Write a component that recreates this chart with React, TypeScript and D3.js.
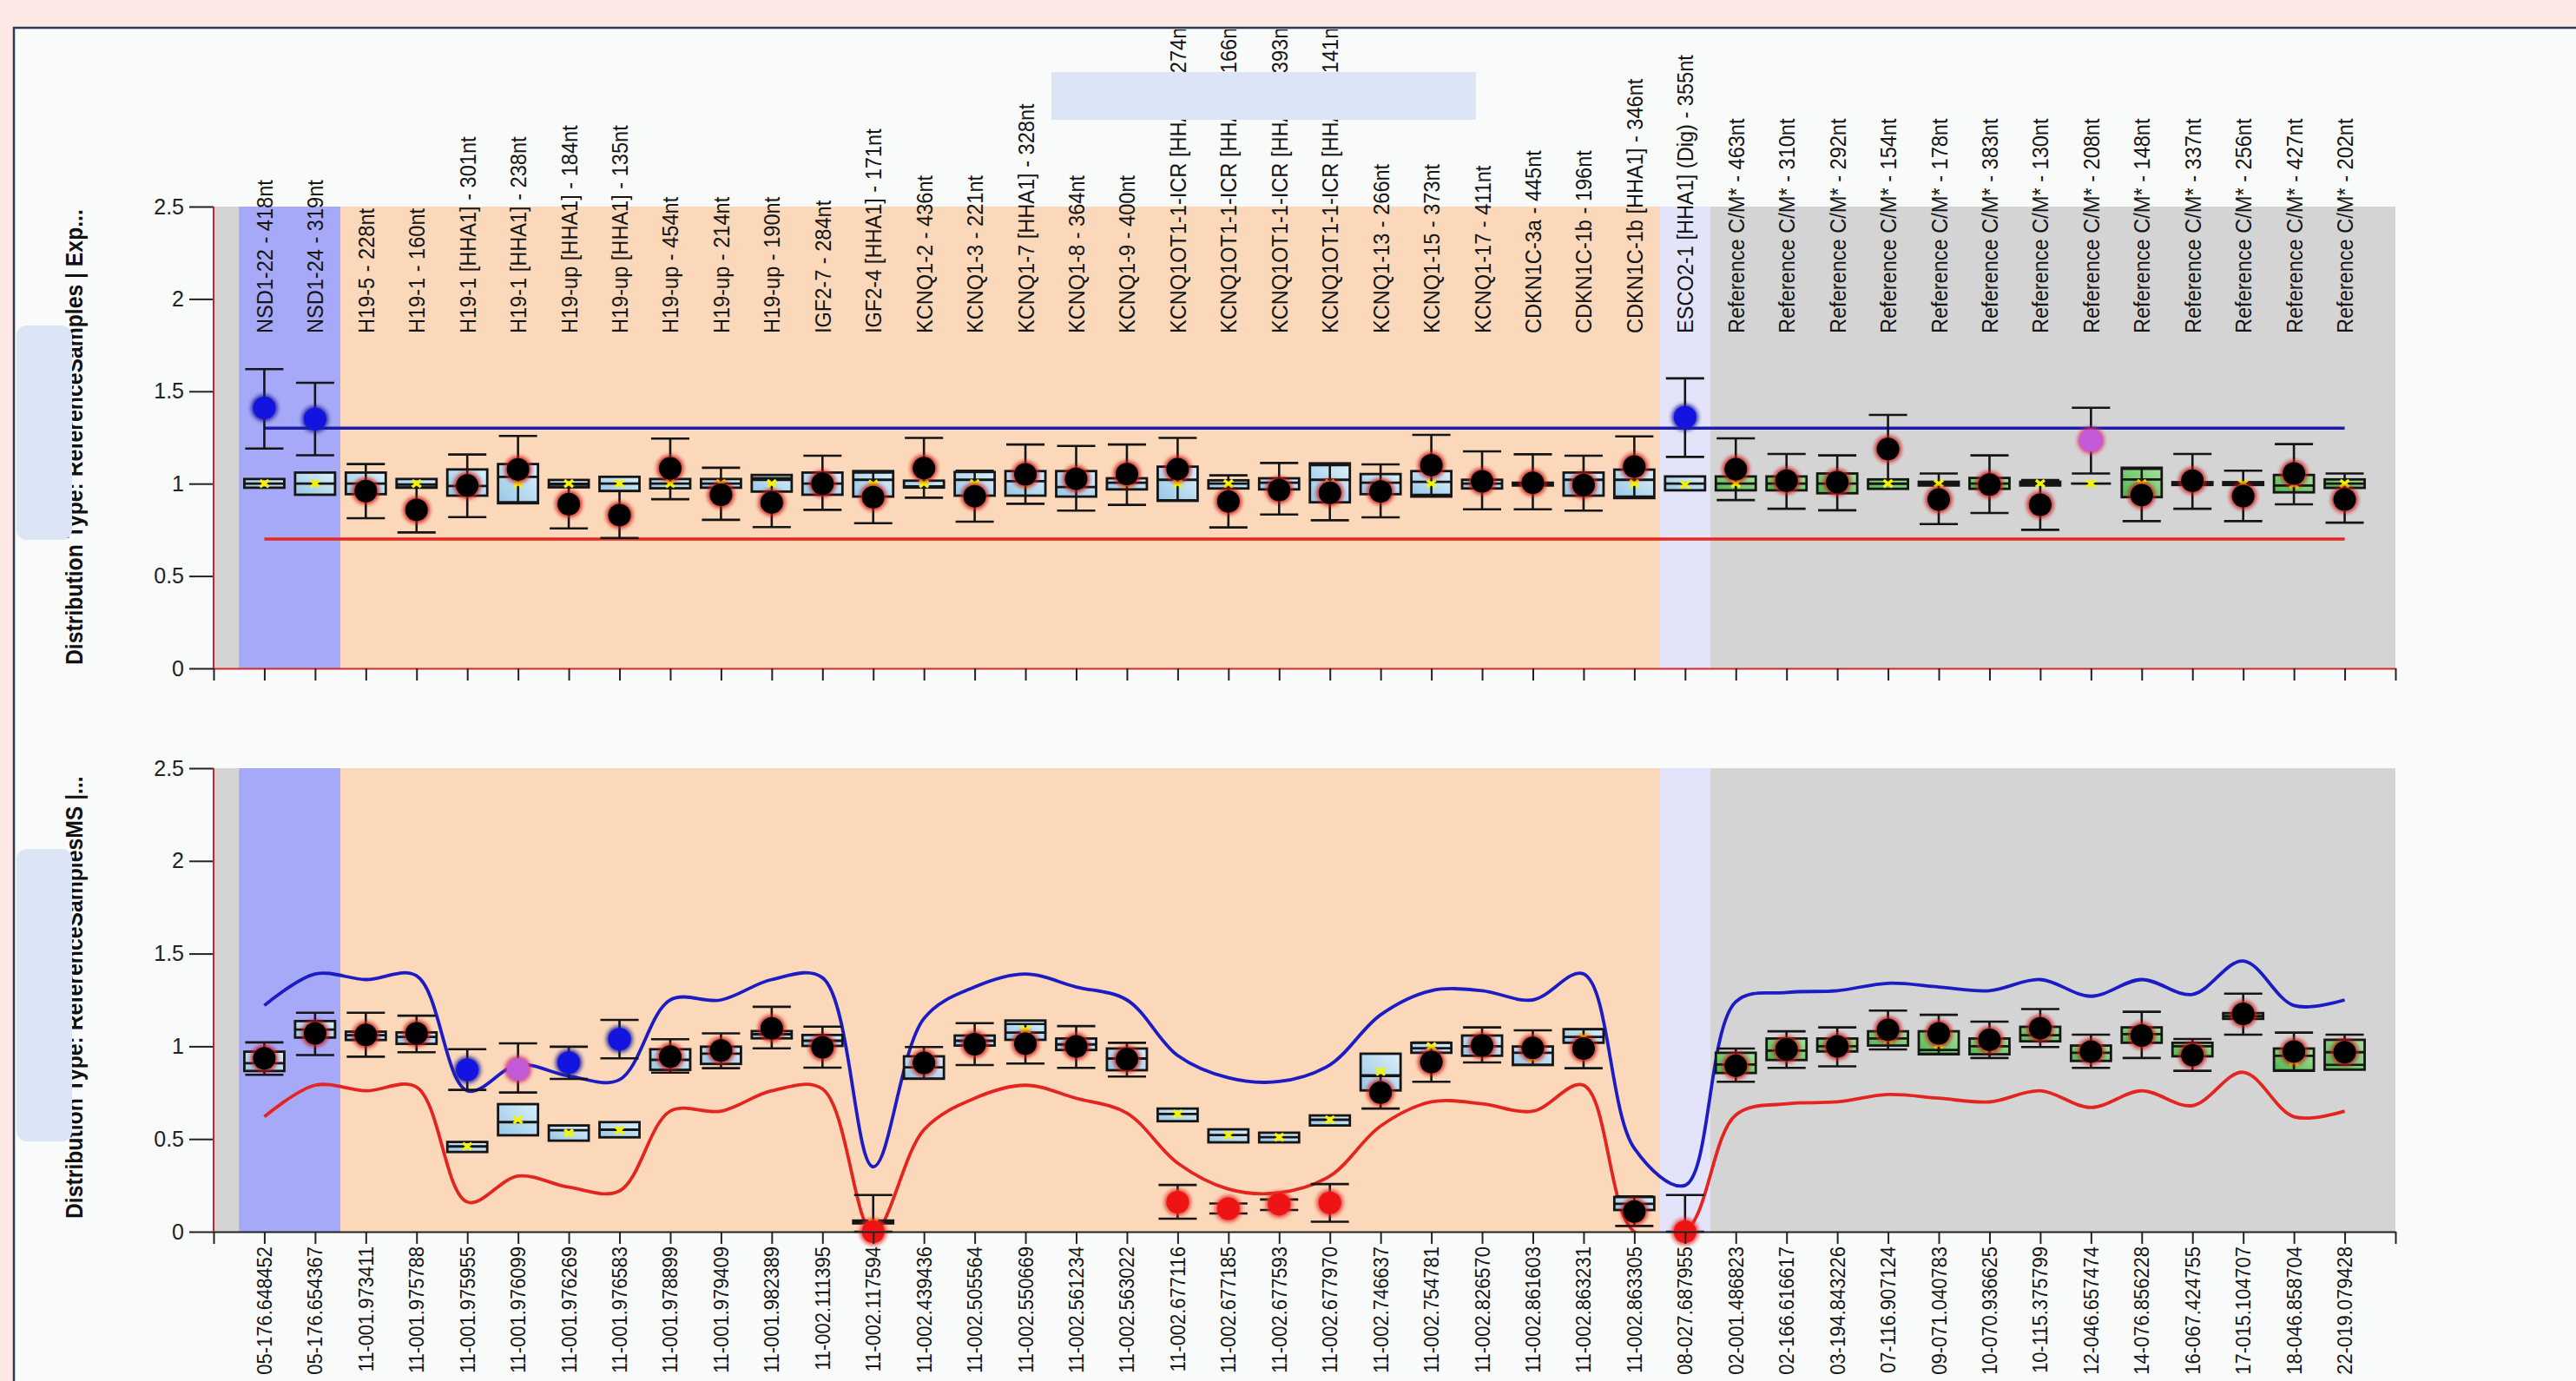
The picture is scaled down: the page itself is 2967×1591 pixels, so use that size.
import React, { useEffect, useRef } from "react";
import * as d3 from "d3";

const W = 2967;
const H = 1591;

// probe names written at the top of the upper panel
const probeLabels = [
  "NSD1-22 - 418nt", "NSD1-24 - 319nt", "H19-5 - 228nt", "H19-1 - 160nt",
  "H19-1 [HHA1] - 301nt", "H19-1 [HHA1] - 238nt", "H19-up [HHA1] - 184nt", "H19-up [HHA1] - 135nt",
  "H19-up - 454nt", "H19-up - 214nt", "H19-up - 190nt", "IGF2-7 - 284nt",
  "IGF2-4 [HHA1] - 171nt", "KCNQ1-2 - 436nt", "KCNQ1-3 - 221nt", "KCNQ1-7 [HHA1] - 328nt",
  "KCNQ1-8 - 364nt", "KCNQ1-9 - 400nt", "KCNQ1OT1-1-ICR [HHA1] - 274nt", "KCNQ1OT1-1-ICR [HHA1] - 166nt",
  "KCNQ1OT1-1-ICR [HHA1] - 393nt", "KCNQ1OT1-1-ICR [HHA1] - 141nt", "KCNQ1-13 - 266nt", "KCNQ1-15 - 373nt",
  "KCNQ1-17 - 411nt", "CDKN1C-3a - 445nt", "CDKN1C-1b - 196nt", "CDKN1C-1b [HHA1] - 346nt",
  "ESCO2-1 [HHA1] (Dig) - 355nt", "Reference C/M* - 463nt", "Reference C/M* - 310nt", "Reference C/M* - 292nt",
  "Reference C/M* - 154nt", "Reference C/M* - 178nt", "Reference C/M* - 383nt", "Reference C/M* - 130nt",
  "Reference C/M* - 208nt", "Reference C/M* - 148nt", "Reference C/M* - 337nt", "Reference C/M* - 256nt",
  "Reference C/M* - 427nt", "Reference C/M* - 202nt",
];

// chromosome positions under the lower panel
const positionLabels = [
  "05-176.648452", "05-176.654367", "11-001.973411", "11-001.975788", "11-001.975955", "11-001.976099",
  "11-001.976269", "11-001.976583", "11-001.978899", "11-001.979409", "11-001.982389", "11-002.111395",
  "11-002.117594", "11-002.439436", "11-002.505564", "11-002.550669", "11-002.561234", "11-002.563022",
  "11-002.677116", "11-002.677185", "11-002.677593", "11-002.677970", "11-002.746637", "11-002.754781",
  "11-002.826570", "11-002.861603", "11-002.863231", "11-002.863305", "08-027.687955", "02-001.486823",
  "02-166.616617", "03-194.843226", "07-116.907124", "09-071.040783", "10-070.936625", "10-115.375799",
  "12-046.657474", "14-076.856228", "16-067.424755", "17-015.104707", "18-046.858704", "22-019.079428",
];

// number of probes in each shaded region, left to right
const regionNames = ["NSD1", "ICR", "ESCO2", "Reference"];
const regionSizes = [2, 26, 1, 13];

// upper panel: reference distribution (box) and sample ratio with its error bar
const expQ1 = [0.978, 0.94, 0.943, 0.978, 0.935, 0.894, 0.98, 0.96, 0.975, 0.978, 0.957, 0.94, 0.93, 0.979, 0.935, 0.935, 0.93, 0.969, 0.907, 0.974, 0.969, 0.899, 0.943, 0.93, 0.974, 0.99, 0.935, 0.922, 0.964, 0.964, 0.964, 0.948, 0.972, 0.99, 0.972, 0.99, 1.0, 0.927, 0.993, 0.993, 0.953, 0.977];
const expMedian = [1.0, 1.0, 1.0, 0.995, 0.987, 1.037, 0.995, 1.0, 1.0, 1.0, 1.02, 1.0, 1.021, 0.985, 1.021, 1.013, 0.982, 1.005, 1.021, 1.0, 1.005, 1.021, 1.005, 1.01, 1.0, 1.0, 1.021, 1.021, 1.0, 1.0, 1.0, 1.0, 1.0, 1.0, 1.0, 1.0, 1.0, 1.023, 1.0, 1.0, 0.99, 1.0];
const expQ3 = [1.025, 1.06, 1.06, 1.025, 1.077, 1.106, 1.02, 1.037, 1.025, 1.025, 1.047, 1.06, 1.068, 1.016, 1.063, 1.068, 1.068, 1.029, 1.092, 1.018, 1.029, 1.11, 1.052, 1.068, 1.021, 1.005, 1.06, 1.076, 1.039, 1.039, 1.039, 1.055, 1.023, 1.01, 1.031, 1.01, 1.0, 1.086, 1.008, 1.008, 1.047, 1.023];
const expMean = [1, 1, 1, 1, 1, 1, 1, 1, 1, 1, 1, 1, 0.998, 1, 1, 1, 1, 1, 1, 1, 1, 1, 1, 1, 1, 1, 1, 1, 0.995, 1, 1, 1, 1, 1, 1, 1, 1, 1, 1, 1, 0.995, 1];
const expRatio = [1.41, 1.35, 0.96, 0.858, 0.99, 1.077, 0.889, 0.83, 1.083, 0.94, 0.898, 1.0, 0.927, 1.084, 0.932, 1.05, 1.026, 1.052, 1.079, 0.904, 0.966, 0.95, 0.958, 1.1, 1.013, 1.005, 0.993, 1.092, 1.359, 1.078, 1.016, 1.008, 1.188, 0.914, 0.995, 0.886, 1.234, 0.938, 1.016, 0.933, 1.055, 0.914];
const expLow = [1.19, 1.154, 0.813, 0.736, 0.819, 0.9, 0.758, 0.706, 0.916, 0.804, 0.765, 0.858, 0.786, 0.924, 0.794, 0.891, 0.854, 0.885, 0.91, 0.763, 0.833, 0.802, 0.818, 0.94, 0.861, 0.861, 0.854, 0.93, 1.145, 0.911, 0.864, 0.856, 1.0, 0.781, 0.841, 0.75, 1.055, 0.797, 0.864, 0.797, 0.888, 0.789];
const expHigh = [1.62, 1.546, 1.106, 0.98, 1.158, 1.258, 1.0, 0.96, 1.244, 1.086, 1.03, 1.151, 1.06, 1.248, 1.07, 1.212, 1.204, 1.212, 1.248, 1.045, 1.112, 1.1, 1.104, 1.264, 1.175, 1.159, 1.151, 1.256, 1.57, 1.245, 1.161, 1.153, 1.372, 1.055, 1.153, 1.02, 1.411, 1.08, 1.161, 1.07, 1.214, 1.055];
// n = normal, h = gain, l = loss, m = borderline
const expFlag = ["h", "h", "n", "n", "n", "n", "n", "n", "n", "n", "n", "n", "n", "n", "n", "n", "n", "n", "n", "n", "n", "n", "n", "n", "n", "n", "n", "n", "h", "n", "n", "n", "n", "n", "n", "n", "m", "n", "n", "n", "n", "n"];
const expUpper = 1.3;
const expLower = 0.7;

// lower panel
const msQ1 = [0.867, 1.047, 1.034, 1.013, 0.43, 0.52, 0.491, 0.509, 0.873, 0.905, 1.043, 1.002, 0.045, 0.825, 1.004, 1.035, 0.98, 0.871, 0.596, 0.482, 0.482, 0.573, 0.762, 0.965, 0.949, 0.899, 1.019, 0.117, null, 0.856, 0.926, 0.972, 1.004, 0.957, 0.957, 1.027, 0.921, 1.019, 0.946, 1.148, 0.868, 0.874];
const msMedian = [0.909, 1.09, 1.06, 1.05, 0.46, 0.591, 0.547, 0.55, 0.927, 0.96, 1.065, 1.03, 0.052, 0.887, 1.03, 1.074, 1.01, 0.934, 0.635, 0.521, 0.51, 0.604, 0.843, 0.99, 1.0, 0.965, 1.05, 0.15, null, 0.902, 0.977, 1.0, 1.042, 0.98, 1.0, 1.06, 0.965, 1.066, 1.0, 1.163, 0.949, 0.968];
const msQ3 = [0.971, 1.136, 1.079, 1.075, 0.484, 0.688, 0.573, 0.591, 0.984, 0.998, 1.082, 1.061, 0.06, 0.946, 1.058, 1.139, 1.042, 0.988, 0.664, 0.552, 0.534, 0.627, 0.96, 1.019, 1.058, 0.999, 1.092, 0.187, null, 0.965, 1.042, 1.042, 1.081, 1.081, 1.042, 1.105, 1.004, 1.102, 1.019, 1.179, 0.988, 1.035];
const msMean = [0.92, 1.08, 1.06, 1.05, 0.46, 0.604, 0.532, 0.547, 0.93, 0.96, 1.065, 1.03, 0.05, 0.89, 1.03, 1.089, 1.01, 0.93, 0.635, 0.521, 0.51, 0.604, 0.864, 0.999, 1.0, 0.937, 1.05, 0.15, null, 0.9, 0.98, 1.0, 1.04, 1.011, 0.99, 1.065, 0.965, 1.066, 0.99, 1.163, 0.918, 0.968];
const msRatio = [0.935, 1.07, 1.061, 1.07, 0.873, 0.876, 0.912, 1.038, 0.944, 0.977, 1.097, 0.995, 0.0, 0.91, 1.011, 1.014, 0.999, 0.93, 0.159, 0.124, 0.148, 0.156, 0.75, 0.915, 1.004, 0.991, 0.988, 0.109, 0.0, 0.895, 0.983, 0.999, 1.089, 1.07, 1.035, 1.097, 0.972, 1.058, 0.952, 1.175, 0.972, 0.968];
const msLow = [0.846, 0.953, 0.944, 0.968, 0.765, 0.751, 0.824, 0.935, 0.858, 0.882, 0.989, 0.885, 0.0, 0.825, 0.899, 0.907, 0.884, 0.837, 0.07, 0.098, 0.117, 0.054, 0.664, 0.809, 0.913, 0.9, 0.882, 0.031, 0.0, 0.809, 0.884, 0.892, 0.983, 0.96, 0.937, 0.996, 0.884, 0.937, 0.868, 1.063, 0.87, 0.9];
const msHigh = [1.021, 1.181, 1.181, 1.165, 0.984, 1.016, 0.998, 1.142, 1.038, 1.07, 1.213, 1.106, 0.198, 0.996, 1.125, 1.12, 1.109, 1.019, 0.252, 0.152, 0.174, 0.257, 0.84, 1.02, 1.102, 1.086, 1.092, 0.19, 0.198, 0.988, 1.081, 1.102, 1.193, 1.17, 1.133, 1.201, 1.063, 1.186, 1.039, 1.284, 1.074, 1.063];
const msFlag = ["n", "n", "n", "n", "h", "m", "h", "h", "n", "n", "n", "n", "l", "n", "n", "n", "n", "n", "l", "l", "l", "l", "n", "n", "n", "n", "n", "n", "l", "n", "n", "n", "n", "n", "n", "n", "n", "n", "n", "n", "n", "n"];
// smoothed limits drawn as curves
const msUpperLimit = [1.22, 1.39, 1.36, 1.38, 0.76, 0.9, 0.84, 0.82, 1.25, 1.25, 1.36, 1.37, 0.35, 1.15, 1.32, 1.39, 1.32, 1.25, 0.95, 0.83, 0.81, 0.9, 1.17, 1.3, 1.3, 1.25, 1.39, 0.45, 0.25, 1.24, 1.29, 1.3, 1.34, 1.32, 1.3, 1.36, 1.27, 1.36, 1.28, 1.46, 1.22, 1.25];
const msLowerLimit = [0.62, 0.79, 0.76, 0.78, 0.16, 0.3, 0.24, 0.22, 0.65, 0.65, 0.76, 0.77, 0.0, 0.55, 0.72, 0.79, 0.72, 0.64, 0.37, 0.23, 0.21, 0.3, 0.57, 0.7, 0.69, 0.65, 0.79, 0.0, 0.0, 0.63, 0.69, 0.7, 0.74, 0.72, 0.7, 0.76, 0.67, 0.76, 0.68, 0.86, 0.62, 0.65];

const yTicks = [0, 0.5, 1, 1.5, 2, 2.5];

const regionFill: Record<string, string> = {
  NSD1: "#a6a9f8",
  ICR: "#fad8b9",
  ESCO2: "#e3e3fa",
  Reference: "#d4d4d4",
};
const dotFill: Record<string, string> = { n: "#000", h: "#1414e0", l: "#ee1414", m: "#c35ad8" };
const dotEdge: Record<string, string> = { n: "#d01818", h: "#20209a", l: "#e83030", m: "#d83070" };

const font = "'Liberation Sans', Arial, sans-serif";

export default function App() {
  const svgRef = useRef<SVGSVGElement | null>(null);

  useEffect(() => {
    document.body.style.margin = "0";
    const svg = d3.select(svgRef.current);
    svg.selectAll("*").remove();

    const defs = svg.append("defs");
    const grad = (id: string, c0: string, c1: string) => {
      const g = defs.append("linearGradient").attr("id", id)
        .attr("x1", 0).attr("y1", 1).attr("x2", 1).attr("y2", 0);
      g.append("stop").attr("offset", "0%").attr("stop-color", c0);
      g.append("stop").attr("offset", "100%").attr("stop-color", c1);
    };
    grad("boxBlue", "#96c6e5", "#dcf0fb");
    grad("boxGreen", "#4db64d", "#a8e2a0");
    defs.append("filter").attr("id", "glow")
      .attr("x", "-50%").attr("y", "-50%").attr("width", "200%").attr("height", "200%")
      .append("feGaussianBlur").attr("stdDeviation", 2.2);
    defs.append("clipPath").attr("id", "frameClip")
      .append("rect").attr("x", 17).attr("y", 34).attr("width", W).attr("height", H);

    // page + panel frame
    svg.append("rect").attr("width", W).attr("height", H).attr("fill", "#fde8e6");
    svg.append("rect").attr("x", 16).attr("y", 32).attr("width", W).attr("height", H)
      .attr("fill", "#f9fafa").attr("stroke", "#2c3a52").attr("stroke-width", 2.5);

    const n = probeLabels.length;
    const x = d3.scaleLinear().domain([0, n + 1]).range([246, 2759]);
    const idx = d3.range(n);

    let acc = 0;
    const regions = regionSizes.map((size, k) => {
      const r = { name: regionNames[k], from: acc + 0.5, to: acc + size + 0.5, first: acc, last: acc + size - 1 };
      acc += size;
      return r;
    });
    const regionOf = (i: number) => regions.find((r) => i >= r.first && i <= r.last)!.name;

    const drawPanel = (
      top: number,
      bottom: number,
      d: { q1: (number | null)[]; med: (number | null)[]; q3: (number | null)[]; mean: (number | null)[]; ratio: number[]; lo: number[]; hi: number[]; flag: string[] },
      kind: "flat" | "curve",
      baseColor: string,
      clipId: string
    ) => {
      const y = d3.scaleLinear().domain([0, 2.5]).range([bottom, top]);
      const g = svg.append("g");

      defs.append("clipPath").attr("id", clipId)
        .append("rect").attr("x", x(0)).attr("y", top).attr("width", x(n + 1) - x(0)).attr("height", bottom - top);

      // shaded regions
      g.append("rect").attr("x", x(0)).attr("y", top).attr("width", x(n + 1) - x(0)).attr("height", bottom - top)
        .attr("fill", regionFill.Reference);
      regions.filter((r) => r.name !== "Reference").forEach((r) => {
        g.append("rect").attr("x", x(r.from)).attr("y", top).attr("width", x(r.to) - x(r.from))
          .attr("height", bottom - top).attr("fill", regionFill[r.name]);
      });

      // limits
      if (kind === "flat") {
        g.append("line").attr("x1", x(1)).attr("x2", x(n)).attr("y1", y(expUpper)).attr("y2", y(expUpper))
          .attr("stroke", "#1c1cae").attr("stroke-width", 3.5);
        g.append("line").attr("x1", x(1)).attr("x2", x(n)).attr("y1", y(expLower)).attr("y2", y(expLower))
          .attr("stroke", "#e8261e").attr("stroke-width", 3.5);
      } else {
        const line = d3.line<number>().x((_, i) => x(i + 1)).y((v) => y(v)).curve(d3.curveCatmullRom.alpha(0.5));
        const cg = g.append("g").attr("clip-path", `url(#${clipId})`);
        cg.append("path").attr("d", line(msUpperLimit)).attr("fill", "none").attr("stroke", "#1c1cc4").attr("stroke-width", 3.8);
        cg.append("path").attr("d", line(msLowerLimit)).attr("fill", "none").attr("stroke", "#e4241e").attr("stroke-width", 3.8);
      }

      const bw = 46;
      // boxes
      idx.forEach((i) => {
        const q1 = d.q1[i], q3 = d.q3[i], med = d.med[i];
        if (q1 == null || q3 == null || med == null) return;
        const cx = x(i + 1);
        g.append("rect").attr("x", cx - bw / 2).attr("y", y(q3)).attr("width", bw).attr("height", Math.max(0, y(q1) - y(q3)))
          .attr("fill", regionOf(i) === "Reference" ? "url(#boxGreen)" : "url(#boxBlue)")
          .attr("stroke", "#151515").attr("stroke-width", 2.8);
        g.append("line").attr("x1", cx - bw / 2).attr("x2", cx + bw / 2).attr("y1", y(med)).attr("y2", y(med))
          .attr("stroke", "#151515").attr("stroke-width", 2.8);
      });

      // error bars of the sample ratio
      idx.forEach((i) => {
        const cx = x(i + 1);
        const cw = 44;
        g.append("line").attr("x1", cx).attr("x2", cx).attr("y1", y(d.lo[i])).attr("y2", y(d.hi[i]))
          .attr("stroke", "#151515").attr("stroke-width", 2.6);
        [d.lo[i], d.hi[i]].forEach((v) => {
          g.append("line").attr("x1", cx - cw / 2).attr("x2", cx + cw / 2).attr("y1", y(v)).attr("y2", y(v))
            .attr("stroke", "#151515").attr("stroke-width", 2.6);
        });
      });

      // mean markers
      idx.forEach((i) => {
        const m = d.mean[i];
        if (m == null) return;
        g.append("path").attr("transform", `translate(${x(i + 1)},${y(m)})`)
          .attr("d", "M-5,-4L5,4M-5,4L5,-4").attr("stroke", "#f4f400").attr("stroke-width", 3.4).attr("fill", "none");
      });

      // sample dots
      idx.forEach((i) => {
        const cx = x(i + 1), cy = y(d.ratio[i]);
        const f = d.flag[i];
        g.append("circle").attr("cx", cx).attr("cy", cy).attr("r", 15.5).attr("fill", dotEdge[f])
          .attr("opacity", 0.85).attr("filter", "url(#glow)");
        g.append("circle").attr("cx", cx).attr("cy", cy).attr("r", 13).attr("fill", dotFill[f]);
      });

      // axes
      const yAxis = g.append("g").attr("transform", `translate(${x(0)},0)`)
        .call(d3.axisLeft(y).tickValues(yTicks).tickSize(28).tickPadding(6).tickFormat(d3.format("~g")));
      yAxis.select(".domain").remove();
      yAxis.selectAll("line").attr("stroke", "#222").attr("stroke-width", 2);
      yAxis.selectAll("text").attr("font-size", 25).attr("font-family", font).attr("fill", "#222");

      const xAxis = g.append("g").attr("transform", `translate(0,${bottom})`)
        .call(d3.axisBottom(x).tickValues(d3.range(0, n + 2)).tickSize(14).tickSizeOuter(0).tickFormat(() => ""));
      xAxis.select(".domain").attr("stroke", baseColor).attr("stroke-width", 2.2);
      xAxis.selectAll(".tick line").attr("stroke", "#222").attr("stroke-width", 2);

      g.append("line").attr("x1", x(0)).attr("x2", x(0)).attr("y1", top).attr("y2", bottom)
        .attr("stroke", "#c2282a").attr("stroke-width", 2);

      return y;
    };

    drawPanel(238, 770,
      { q1: expQ1, med: expMedian, q3: expQ3, mean: expMean, ratio: expRatio, lo: expLow, hi: expHigh, flag: expFlag },
      "flat", "#d02a2a", "clipTop");
    drawPanel(885, 1419,
      { q1: msQ1, med: msMedian, q3: msQ3, mean: msMean, ratio: msRatio, lo: msLow, hi: msHigh, flag: msFlag },
      "curve", "#222", "clipBottom");

    // probe names (clipped by the frame), slightly narrow glyphs like the source
    svg.append("g").attr("clip-path", "url(#frameClip)")
      .selectAll("text").data(probeLabels).join("text")
      .attr("transform", (_, i) => `translate(${x(i + 1) + 9.5},384) rotate(-90) scale(0.9,1)`)
      .attr("font-size", 26.2).attr("font-family", font).attr("fill", "#151515")
      .text((t) => t);

    svg.append("g").selectAll("text").data(positionLabels).join("text")
      .attr("transform", (_, i) => `translate(${x(i + 1) + 8.5},1436) rotate(-90) scale(0.9,1)`)
      .attr("text-anchor", "end")
      .attr("font-size", 24.4).attr("font-family", font).attr("fill", "#151515")
      .text((t) => t);

    // axis titles
    svg.append("text").attr("transform", "translate(95,766) rotate(-90) scale(0.9,1)")
      .attr("font-size", 27.5).attr("font-weight", "bold").attr("font-family", font).attr("fill", "#111")
      .text("Distribution Type: ReferenceSamples | Exp...");
    svg.append("text").attr("transform", "translate(95,1404) rotate(-90) scale(0.9,1)")
      .attr("font-size", 27.5).attr("font-weight", "bold").attr("font-family", font).attr("fill", "#111")
      .text("Distribution Type: ReferenceSamplesMS |...");

    // light blue cover boxes
    svg.append("rect").attr("x", 1211).attr("y", 83).attr("width", 489).attr("height", 55).attr("fill", "#dbe5f5");
    svg.append("rect").attr("x", 19).attr("y", 375).attr("width", 64).attr("height", 247).attr("rx", 12).attr("fill", "#dbe5f5");
    svg.append("rect").attr("x", 19).attr("y", 978).attr("width", 64).attr("height", 337).attr("rx", 12).attr("fill", "#dbe5f5");
  }, []);

  return <svg ref={svgRef} width={W} height={H} style={{ display: "block" }} />;
}
